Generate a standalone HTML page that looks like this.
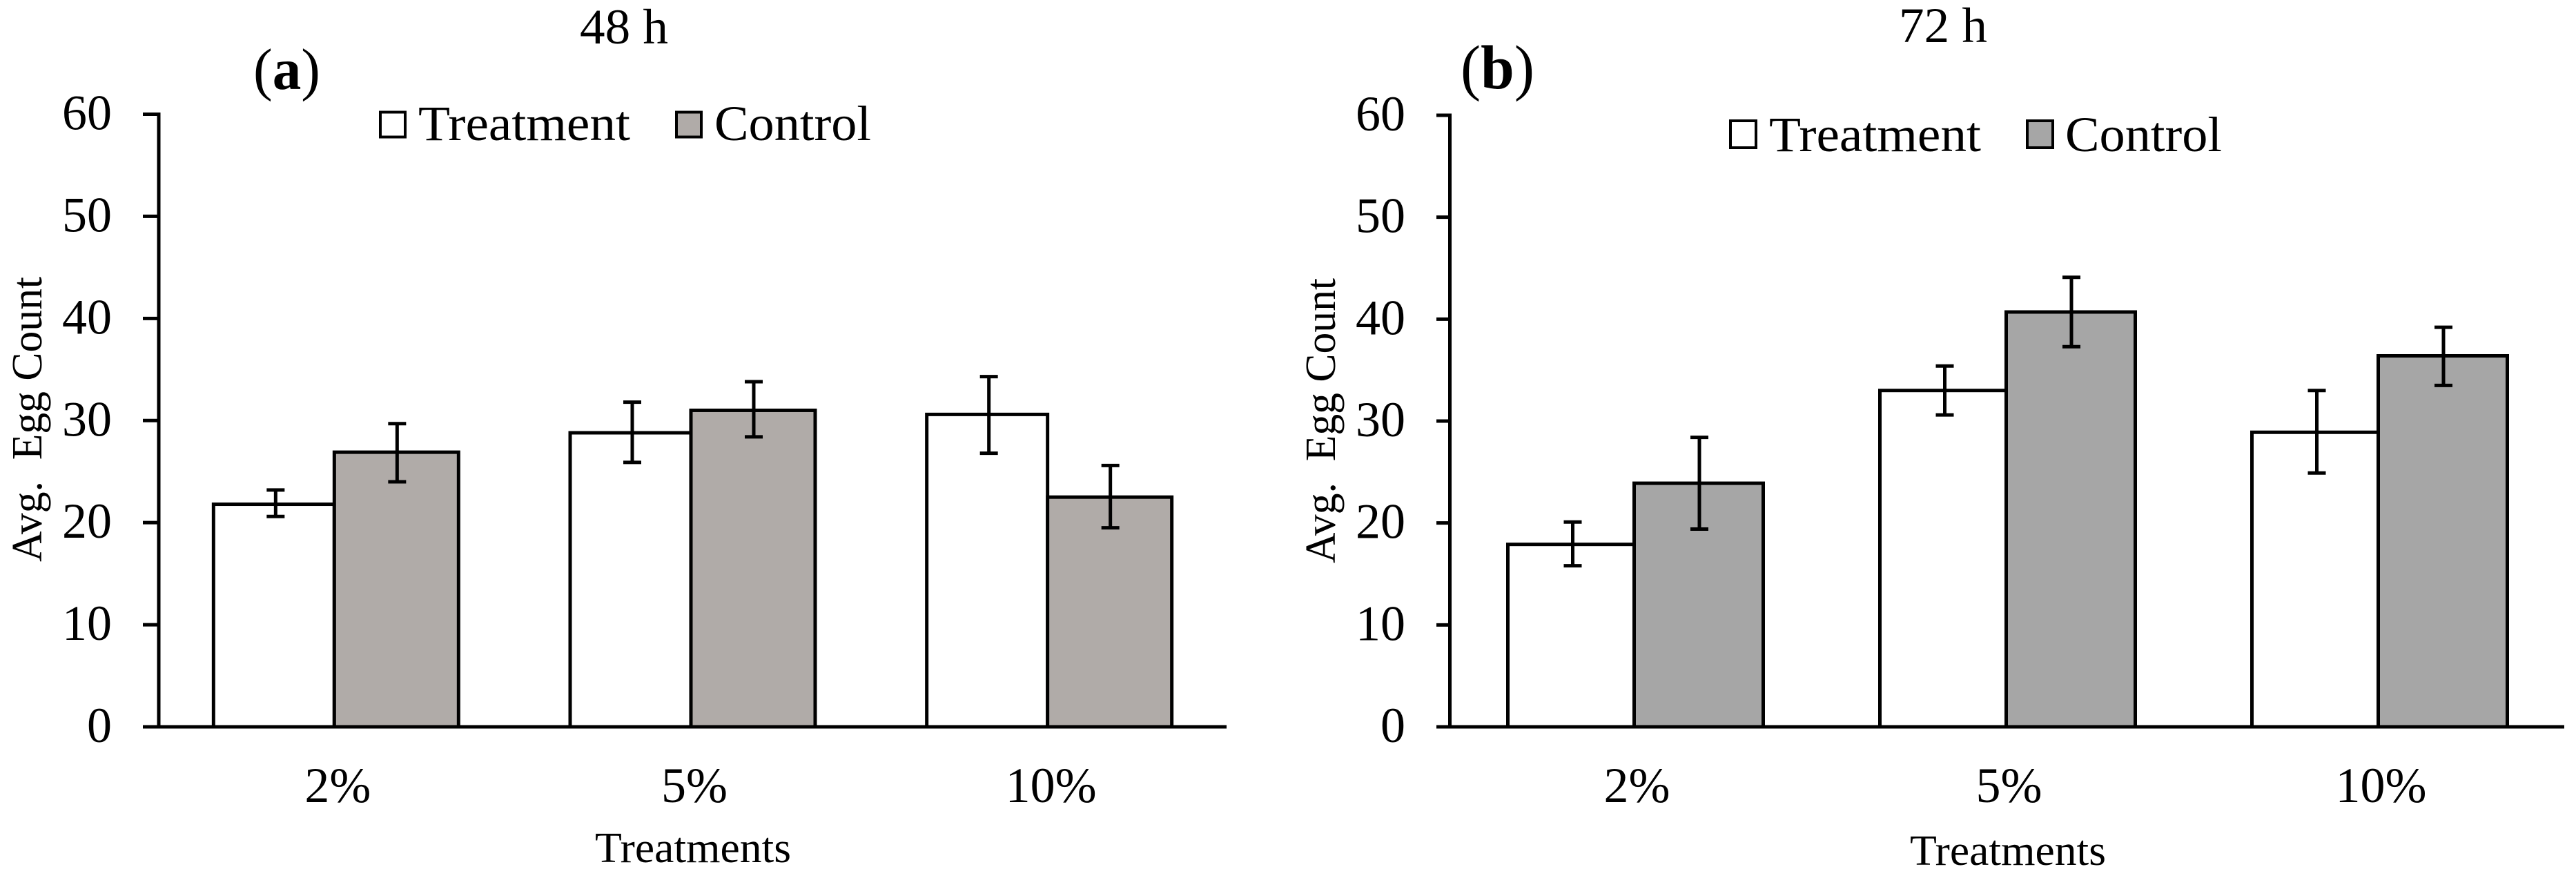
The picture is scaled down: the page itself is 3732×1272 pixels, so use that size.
<!DOCTYPE html>
<html lang="en">
<head>
<meta charset="utf-8">
<title>Average egg count at 48 h and 72 h</title>
<style>
html,body{margin:0;padding:0;background:#fff;width:3732px;height:1272px;overflow:hidden}
svg{display:block;position:absolute;left:0;top:0}
text{font-family:"Liberation Serif","DejaVu Serif",serif;fill:#000}
</style>
</head>
<body>
<svg id="figure" width="3732" height="1272" viewBox="0 0 3732 1272" xmlns="http://www.w3.org/2000/svg">
  <g id="panel-a">
    <text x="904" y="63" font-size="72" text-anchor="middle" textLength="128" lengthAdjust="spacingAndGlyphs">48 h</text>
    <text x="367" y="129" font-size="85" textLength="97" lengthAdjust="spacingAndGlyphs">(<tspan font-weight="bold">a</tspan>)</text>
    <text transform="translate(60,814) rotate(-90)" font-size="62" textLength="413" lengthAdjust="spacingAndGlyphs" xml:space="preserve">Avg.  Egg Count</text>
    <text x="1004" y="1249" font-size="62" text-anchor="middle" textLength="284" lengthAdjust="spacingAndGlyphs">Treatments</text>
    <rect x="551" y="162.5" width="36" height="36" fill="#fff" stroke="#000" stroke-width="4"/>
    <text x="606" y="203" font-size="72" textLength="307" lengthAdjust="spacingAndGlyphs">Treatment</text>
    <rect x="980" y="162.5" width="36" height="36" fill="#b0aba8" stroke="#000" stroke-width="4"/>
    <text x="1035" y="203" font-size="72" textLength="227" lengthAdjust="spacingAndGlyphs">Control</text>
  </g>
  <g id="panel-b">
    <text x="2815" y="61" font-size="72" text-anchor="middle" textLength="128" lengthAdjust="spacingAndGlyphs">72 h</text>
    <text x="2116" y="128" font-size="90" textLength="107" lengthAdjust="spacingAndGlyphs">(<tspan font-weight="bold">b</tspan>)</text>
    <text transform="translate(1934,816) rotate(-90)" font-size="62" textLength="413" lengthAdjust="spacingAndGlyphs" xml:space="preserve">Avg.  Egg Count</text>
    <text x="2909" y="1253" font-size="62" text-anchor="middle" textLength="284" lengthAdjust="spacingAndGlyphs">Treatments</text>
    <rect x="2507" y="175" width="37" height="39" fill="#fff" stroke="#000" stroke-width="4"/>
    <text x="2563" y="219" font-size="72" textLength="307" lengthAdjust="spacingAndGlyphs">Treatment</text>
    <rect x="2937" y="175" width="37" height="39" fill="#a6a6a6" stroke="#000" stroke-width="4"/>
    <text x="2992" y="219" font-size="72" textLength="227" lengthAdjust="spacingAndGlyphs">Control</text>
  </g>
</svg>
<script>
var categories = ['2%', '5%', '10%'];
var yTicks = [0, 10, 20, 30, 40, 50, 60];

var treatment48 = [21.8, 28.8, 30.6];
var treatment48Upper = [23.2, 31.8, 34.3];
var treatment48Lower = [20.6, 25.9, 26.8];
var control48 = [26.9, 31.0, 22.5];
var control48Upper = [29.7, 33.8, 25.6];
var control48Lower = [24.0, 28.4, 19.5];

var treatment72 = [17.9, 33.0, 28.9];
var treatment72Upper = [20.1, 35.4, 33.0];
var treatment72Lower = [15.8, 30.6, 24.9];
var control72 = [23.9, 40.7, 36.4];
var control72Upper = [28.4, 44.1, 39.2];
var control72Lower = [19.4, 37.3, 33.5];

var NS = 'http://www.w3.org/2000/svg';

function make(parent, tag, attrs) {
  var el = document.createElementNS(NS, tag);
  for (var k in attrs) { el.setAttribute(k, attrs[k]); }
  parent.appendChild(el);
  return el;
}

function drawPanel(cfg) {
  var g = document.getElementById(cfg.id);
  function y(v) { return cfg.y0 - v * (cfg.y0 - cfg.y60) / 60; }
  function groupX(i) { return cfg.bandLeft + (i + 0.5) * (cfg.bandRight - cfg.bandLeft) / categories.length; }

  // bars first, so the axes sit on top
  categories.forEach(function (cat, i) {
    var b = groupX(i);
    var h1 = make(g, 'rect', { x: b - cfg.wT, y: y(cfg.t[i]), width: cfg.wT, height: y(0) - y(cfg.t[i]), fill: '#fff', stroke: '#000', 'stroke-width': 5 });
    
    
    var h2 = make(g, 'rect', { x: b, y: y(cfg.c[i]), width: cfg.wC, height: y(0) - y(cfg.c[i]), fill: cfg.fill, stroke: '#000', 'stroke-width': 5 });
    
    
  });

  // error bars
  function errorBar(x, up, lo) {
    var eg = make(g, 'g', { stroke: '#000', 'stroke-width': 5, fill: 'none' });
    
    
    make(eg, 'line', { x1: x, x2: x, y1: y(up), y2: y(lo) });
    make(eg, 'line', { x1: x - 13, x2: x + 13, y1: y(up), y2: y(up) });
    make(eg, 'line', { x1: x - 13, x2: x + 13, y1: y(lo), y2: y(lo) });
  }
  categories.forEach(function (cat, i) {
    var b = groupX(i);
    errorBar(b - cfg.wT / 2 + 2.5, cfg.tU[i], cfg.tL[i]);
    errorBar(b + cfg.wC / 2 + 1, cfg.cU[i], cfg.cL[i]);
  });

  // y axis
  var yAxis = make(g, 'line', { x1: cfg.axisX, x2: cfg.axisX, y1: y(60) - 2.5, y2: y(0), stroke: '#000', 'stroke-width': 5 });
  
  
  yTicks.forEach(function (t) {
    var tick = make(g, 'line', { x1: cfg.tickLeft, x2: cfg.axisX, y1: y(t), y2: y(t), stroke: '#000', 'stroke-width': 5 });
    
    
    var lab = make(g, 'text', { x: cfg.labelRight, y: y(t) + 22, 'font-size': 72, 'text-anchor': 'end' });
    
    
    lab.textContent = String(t);
  });

  // x axis
  var xAxis = make(g, 'line', { x1: cfg.tickLeft, x2: cfg.axisRight, y1: y(0), y2: y(0), stroke: '#000', 'stroke-width': 5 });
  
  
  categories.forEach(function (cat, i) {
    var lab = make(g, 'text', { x: groupX(i) + cfg.labelShift, y: 1162, 'font-size': 72, 'text-anchor': 'middle' });
    
    
    lab.textContent = cat;
  });
}

drawPanel({
  id: 'panel-a', y0: 1053, y60: 165.5, axisX: 230, axisRight: 1777, tickLeft: 207, labelRight: 162,
  bandLeft: 226, bandRight: 1776, wT: 175, wC: 180, fill: '#b0aba8', labelShift: 5,
  t: treatment48, tU: treatment48Upper, tL: treatment48Lower,
  c: control48, cU: control48Upper, cL: control48Lower
});
drawPanel({
  id: 'panel-b', y0: 1053, y60: 167, axisX: 2100.5, axisRight: 3715, tickLeft: 2081, labelRight: 2036,
  bandLeft: 2098, bandRight: 3715, wT: 183, wC: 187, fill: '#a6a6a6', labelShift: 4,
  t: treatment72, tU: treatment72Upper, tL: treatment72Lower,
  c: control72, cU: control72Upper, cL: control72Lower
});
</script>
</body>
</html>
